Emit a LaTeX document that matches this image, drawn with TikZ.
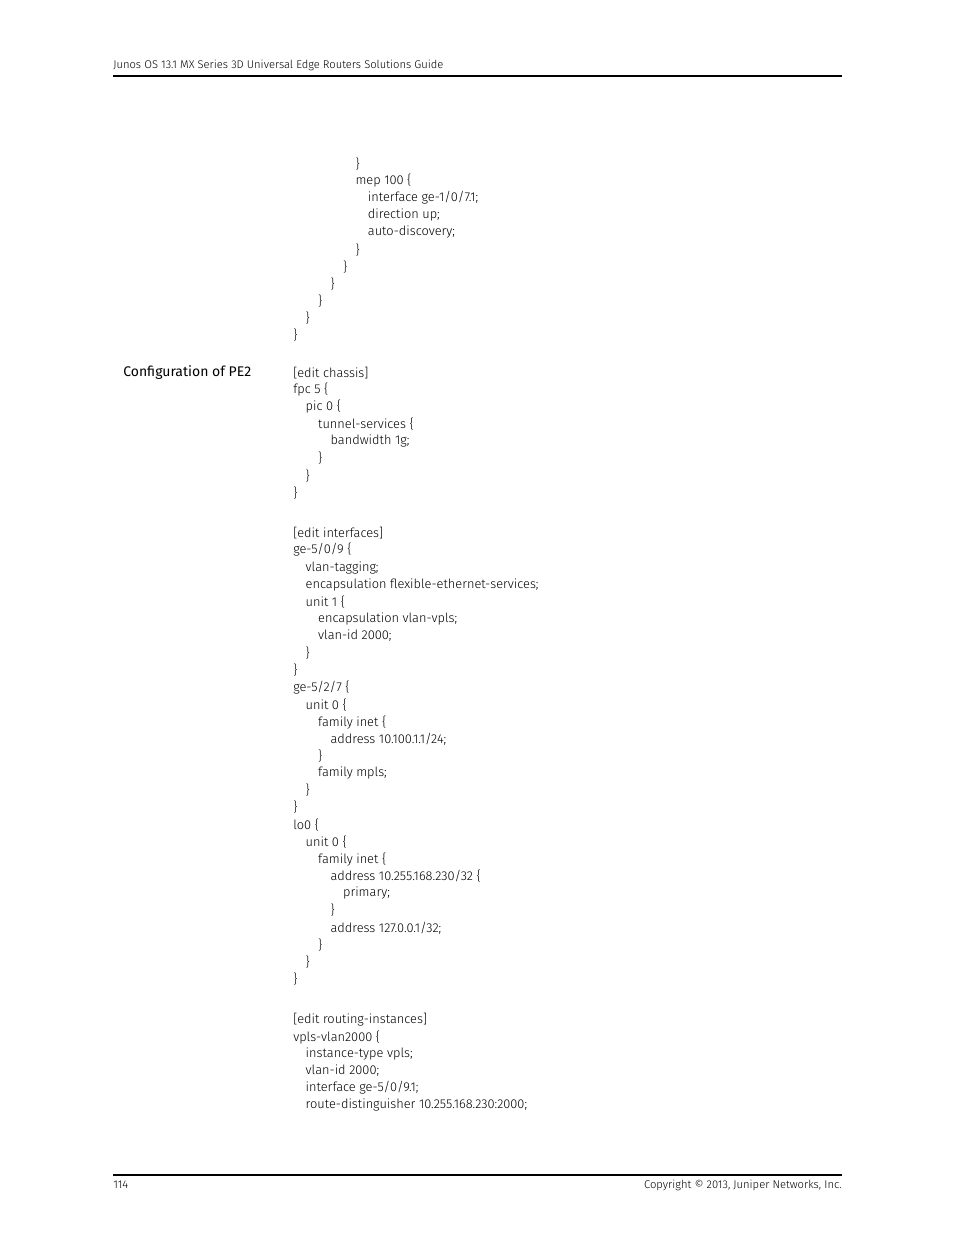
\documentclass[tikz,border=0pt]{standalone}
\usepackage{fontspec}
\setmainfont{Fira Sans Light}[BoldFont=Fira Sans]
\newcommand{\ob}{\{}
\newcommand{\cb}{\}}
\tikzset{
  codeline/.style={anchor=west, inner sep=0pt, font=\fontsize{9.6}{12}\selectfont},
  smalltext/.style={inner sep=0pt, font=\fontsize{8.4}{10}\selectfont},
  rule/.style={line width=0.8pt}
}
\begin{document}
\begin{tikzpicture}[x=0.75pt, y=-0.75pt]
  \useasboundingbox (0,0) rectangle (954,1235);
  % Header and footer
  \node[smalltext, anchor=west] (title) at (113,65) {Junos OS 13.1 MX Series 3D Universal Edge Routers Solutions Guide};
  \coordinate (tl) at (113,76);
  \coordinate (tr) at (842,76);
  \draw[rule] (tl) -- (tr);
  \coordinate (bl) at (113,1175);
  \coordinate (br) at (842,1175);
  \draw[rule] (bl) -- (br);
  \node[smalltext, anchor=west] (pagenum) at (113,1185) {114};
  \node[smalltext, anchor=east] (copy) at (842,1185) {Copyright © 2013, Juniper Networks, Inc.};
  % Section heading
  \node[anchor=west, inner sep=0pt, font=\fontsize{10.5}{12}\bfseries] (heading) at (123,373) {Configuration of PE2};
  % Code lines
  \foreach \l/\y/\t [count=\i] in {
    5/164/{\cb}, 5/181/{mep 100 \ob}, 6/198/{interface ge-1/0/7.1;},
    6/215/{direction up;}, 6/232/{auto-discovery;}, 5/250/{\cb},
    4/267/{\cb}, 3/284/{\cb}, 2/301/{\cb}, 1/318/{\cb}, 0/335/{\cb},
    0/373/{[edit chassis]}, 0/390/{fpc 5 \ob}, 1/407/{pic 0 \ob},
    2/424/{tunnel-services \ob}, 3/441/{bandwidth 1g;}, 2/458/{\cb},
    1/476/{\cb}, 0/493/{\cb},
    0/533/{[edit interfaces]}, 0/550/{ge-5/0/9 \ob}, 1/568/{vlan-tagging;},
    1/585/{encapsulation flexible-ethernet-services;}, 1/602/{unit 1 \ob},
    2/619/{encapsulation vlan-vpls;}, 2/636/{vlan-id 2000;}, 1/653/{\cb},
    0/670/{\cb}, 0/688/{ge-5/2/7 \ob}, 1/705/{unit 0 \ob},
    2/722/{family inet \ob}, 3/739/{address 10.100.1.1/24;}, 2/756/{\cb},
    2/773/{family mpls;}, 1/790/{\cb}, 0/807/{\cb},
    0/825/{lo0 \ob}, 1/842/{unit 0 \ob}, 2/859/{family inet \ob},
    3/876/{address 10.255.168.230/32 \ob}, 4/893/{primary;}, 3/910/{\cb},
    3/928/{address 127.0.0.1/32;}, 2/945/{\cb}, 1/962/{\cb}, 0/979/{\cb},
    0/1020/{[edit routing-instances]}, 0/1037/{vpls-vlan2000 \ob},
    1/1054/{instance-type vpls;}, 1/1071/{vlan-id 2000;},
    1/1088/{interface ge-5/0/9.1;},
    1/1105/{route-distinguisher 10.255.168.230:2000;}}
    \node[codeline] (line\i) at (293+12.45*\l,\y) {\t};
\end{tikzpicture}
\end{document}
